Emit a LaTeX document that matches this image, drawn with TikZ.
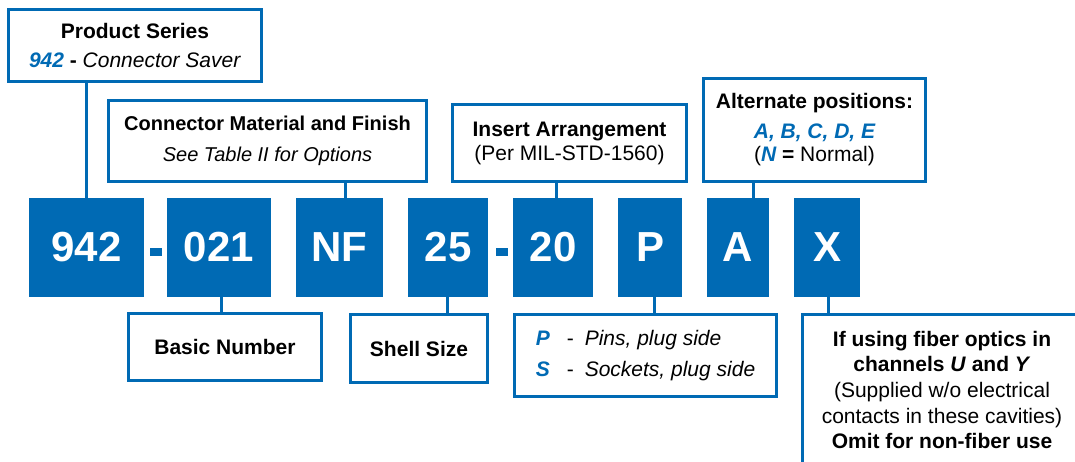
\documentclass[tikz,border=0pt]{standalone}
\usepackage{fontspec}
\setmainfont{Liberation Sans}
\definecolor{cblue}{RGB}{0,106,180}
\newcommand\bbi[1]{\textcolor{cblue}{\bfseries\itshape #1}}
\begin{document}
\begin{tikzpicture}[x=1pt,y=-1pt,
  bord/.style={draw=cblue, line width=3pt},
  lbl/.style={bord, fill=white, inner sep=0pt, align=center, text=black, font=\fontsize{21}{29}\selectfont},
  code/.style={fill=cblue, inner sep=0pt, minimum height=99pt, text=white, font=\fontsize{42}{42}\selectfont\bfseries},
  conn/.style={draw=cblue, line width=3pt},
  dashbar/.style={fill=cblue, inner sep=0pt, minimum width=12pt, minimum height=8pt}]
\useasboundingbox (0,0) rectangle (1075,462);

% code boxes
\node[code, minimum width=115pt] (c942) at (86.5,247.5) {942};
\node[dashbar] (d1) at (156,251.5) {};
\node[code, minimum width=104pt] (c021) at (219,247.5) {021};
\node[code, minimum width=87pt] (cNF) at (339.5,247.5) {NF};
\node[code, minimum width=80pt] (c25) at (448,247.5) {25};
\node[dashbar] (d2) at (501.5,251.5) {};
\node[code, minimum width=80pt] (c20) at (553,247.5) {20};
\node[code, minimum width=64pt] (cP) at (650,247.5) {P};
\node[code, minimum width=62pt] (cA) at (738,247.5) {A};
\node[code, minimum width=66pt] (cX) at (827,247.5) {X};

% upper labels
\node[lbl, minimum width=253pt, minimum height=72pt] (prod) at (135,45.5)
  {\textbf{Product Series}\\ \bbi{942} \textbf{-} \textit{Connector Saver}};
\node[lbl, minimum width=318pt, minimum height=81pt, font=\fontsize{20}{31}\selectfont] (mat) at (267.5,141)
  {\textbf{Connector Material and Finish}\\ \textit{See Table II for Options}};
\node[lbl, minimum width=234pt, minimum height=77pt, font=\fontsize{21}{24}\selectfont] (ins) at (569.5,143)
  {\textbf{Insert Arrangement}\\ (Per MIL-STD-1560)};
\node[lbl, minimum width=222pt, minimum height=103pt, font=\fontsize{21}{23}\selectfont] (alt) at (814.5,130)
  {\textbf{Alternate positions:}\\[7pt] \bbi{A, B, C, D, E}\\ (\bbi{N} \textbf{=} Normal)};

% lower labels
\node[lbl, minimum width=193pt, minimum height=67pt] (basic) at (225,347) {\textbf{Basic Number}};
\node[lbl, minimum width=137pt, minimum height=68pt] (shell) at (419,348.5) {\textbf{Shell Size}};
\node[lbl, minimum width=262pt, minimum height=82pt, align=left, font=\fontsize{21}{31}\selectfont] (pins) at (645.5,355.5)
  {\makebox[31pt][l]{\bbi{P}}\makebox[18pt][l]{-}\textit{Pins, plug side}\\
   \makebox[31pt][l]{\bbi{S}}\makebox[18pt][l]{-}\textit{Sockets, plug side}};

% open fiber box
\coordinate (fibR) at (1075,314.5);
\coordinate (fibC) at (802.5,314.5);
\coordinate (fibB) at (802.5,462);
\draw[bord] (fibR) -- (fibC) -- (fibB);
\node[inner sep=0pt, align=center, text=black, font=\fontsize{21}{25.7}\selectfont] (fiber) at (942,390)
  {\textbf{If using fiber optics in}\\ \textbf{channels \textit{U} and \textit{Y}}\\ (Supplied w/o electrical\\ contacts in these cavities)\\ \textbf{Omit for non-fiber use}};

% connectors
\draw[conn] (c942.north) -- (c942.north |- prod.south);
\draw[conn] ([xshift=5.5pt]cNF.north) -- ([xshift=5.5pt]cNF.north |- mat.south);
\draw[conn] ([xshift=3pt]c20.north) -- ([xshift=3pt]c20.north |- ins.south);
\draw[conn] ([xshift=15pt]cA.north) -- ([xshift=15pt]cA.north |- alt.south);
\draw[conn] ([xshift=2pt]c021.south) -- ([xshift=2pt]c021.south |- basic.north);
\draw[conn] ([xshift=-1pt]c25.south) -- ([xshift=-1pt]c25.south |- shell.north);
\draw[conn] ([xshift=4pt]cP.south) -- ([xshift=4pt]cP.south |- pins.north);
\draw[conn] ([xshift=1pt]cX.south) -- ([xshift=1pt]cX.south |- fibC);
\end{tikzpicture}
\end{document}
